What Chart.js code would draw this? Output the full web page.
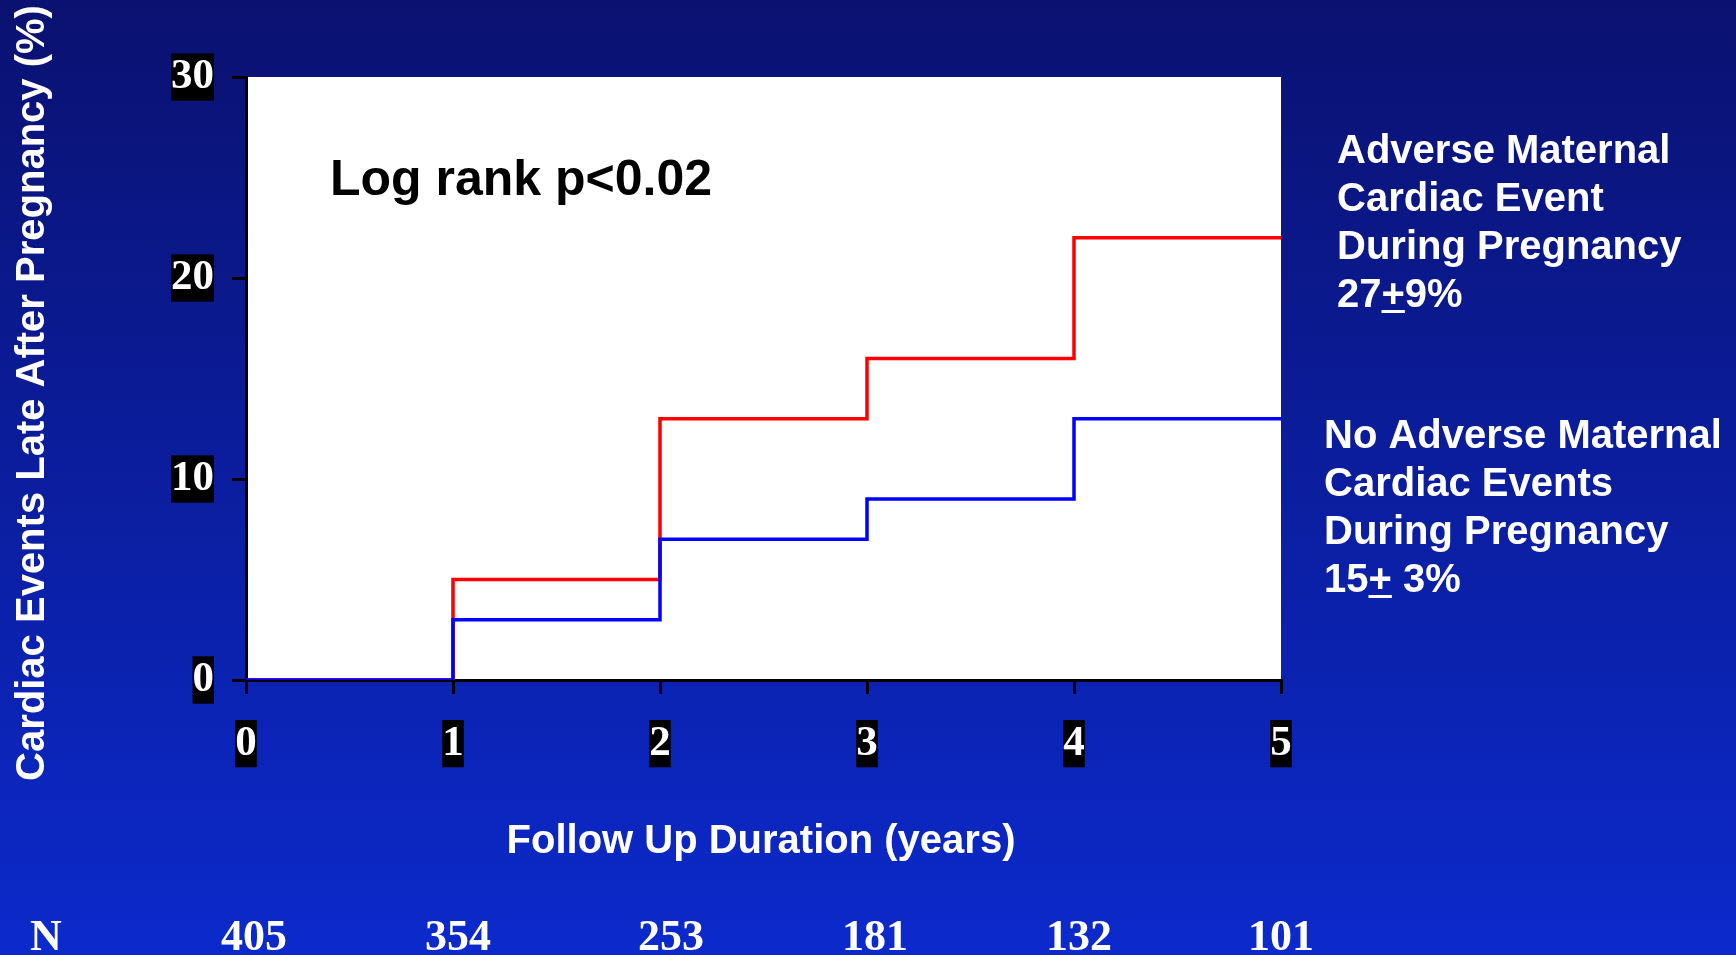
<!DOCTYPE html>
<html>
<head>
<meta charset="utf-8">
<script src="https://cdn.jsdelivr.net/npm/chart.js@4/dist/chart.umd.min.js"></script>
<style>
html,body{margin:0;padding:0;background:#0b1a9a;}
#wrap{width:1736px;height:955px;}
</style>
</head>
<body>
<div id="wrap"><canvas id="c" width="1736" height="955"></canvas></div>
<script>
// ---- data ----
const yearsX = [0, 1, 2, 3, 4, 5];
const adverseEvents = [0, 5, 13, 16, 22, 22];      // % with adverse maternal cardiac event during pregnancy
const noAdverseEvents = [0, 3, 7, 9, 13, 13];      // % without
const yTicks = [0, 10, 20, 30];
const xTickLabels = ['0', '1', '2', '3', '4', '5'];
const atRiskN = ['405', '354', '253', '181', '132', '101'];
const nLabel = 'N';
const adverseLegend = ['Adverse Maternal', 'Cardiac Event', 'During Pregnancy'];
const adverseRate = ['27', '+', '9%'];
const noAdverseLegend = ['No Adverse Maternal', 'Cardiac Events', 'During Pregnancy'];
const noAdverseRate = ['15', '+', ' 3%'];
const logRankText = 'Log rank p<0.02';
const xTitle = 'Follow Up Duration (years)';
const yTitle = 'Cardiac Events Late After Pregnancy (%)';

const SANS = 'Arial, "Liberation Sans", Helvetica, sans-serif';
const SERIF = '"Liberation Serif", "Times New Roman", serif';
const nOffsets = [8, 5, 11, 8, 5, 0];

function drawRate(ctx, parts, x, y) {
  ctx.fillText(parts[0], x, y);
  let w0 = ctx.measureText(parts[0]).width;
  ctx.fillText(parts[1], x + w0, y);
  let w1 = ctx.measureText(parts[1]).width;
  ctx.fillRect(x + w0, y + 14, w1, 3);
  ctx.fillText(parts[2], x + w0 + w1, y);
}

const decor = {
  id: 'decor',
  beforeDraw(chart) {
    const ctx = chart.ctx;
    const g = ctx.createLinearGradient(0, 0, 0, chart.height);
    g.addColorStop(0, '#0a1170');
    g.addColorStop(1, '#0c2acc');
    ctx.save();
    ctx.fillStyle = g;
    ctx.fillRect(0, 0, chart.width, chart.height);
    const a = chart.chartArea;
    ctx.fillStyle = '#ffffff';
    ctx.fillRect(a.left, a.top, a.right - a.left, a.bottom - a.top);
    ctx.restore();
  },
  afterDraw(chart) {
    const ctx = chart.ctx;
    const xs = chart.scales.x;
    ctx.save();
    // log rank
    ctx.fillStyle = '#000000';
    ctx.font = 'bold 50px ' + SANS;
    ctx.textBaseline = 'middle';
    ctx.textAlign = 'left';
    ctx.fillText(logRankText, 330, 181);
    // legends
    ctx.fillStyle = '#ffffff';
    ctx.font = 'bold 40px ' + SANS;
    adverseLegend.forEach((t, i) => ctx.fillText(t, 1337, 152 + i * 48));
    drawRate(ctx, adverseRate, 1337, 152 + 3 * 48);
    noAdverseLegend.forEach((t, i) => ctx.fillText(t, 1324, 437 + i * 48));
    drawRate(ctx, noAdverseRate, 1324, 437 + 3 * 48);
    // x title
    ctx.textAlign = 'center';
    ctx.fillText(xTitle, 761, 842);
    // y title
    ctx.save();
    ctx.translate(33, 393);
    ctx.rotate(-Math.PI / 2);
    ctx.fillText(yTitle, 0, 0);
    ctx.restore();
    // N row
    ctx.font = 'bold 44px ' + SERIF;
    ctx.textBaseline = 'alphabetic';
    ctx.fillText(nLabel, 46, 950);
    atRiskN.forEach((t, i) => {
      ctx.fillText(t, xs.getPixelForValue(yearsX[i]) + nOffsets[i], 950);
    });
    ctx.restore();
  }
};

new Chart(document.getElementById('c'), {
  type: 'line',
  data: {
    datasets: [
      {
        label: 'No adverse',
        data: yearsX.map((x, i) => ({x: x, y: noAdverseEvents[i]})),
        borderColor: '#0000ff',
        borderWidth: 3.5,
        stepped: 'before',
        pointRadius: 0,
        fill: false
      },
      {
        label: 'Adverse',
        data: yearsX.map((x, i) => ({x: x, y: adverseEvents[i]})),
        borderColor: '#ff0000',
        borderWidth: 3.5,
        stepped: 'before',
        pointRadius: 0,
        fill: false
      }
    ]
  },
  options: {
    responsive: false,
    animation: false,
    devicePixelRatio: 1,
    layout: {padding: {left: 0, right: 455, top: 77, bottom: 0}},
    plugins: {legend: {display: false}, tooltip: {enabled: false}},
    scales: {
      x: {
        type: 'linear',
        min: 0, max: 5,
        afterFit: s => { s.height = 275; },
        afterBuildTicks: s => { s.ticks = yearsX.map(v => ({value: v})); },
        ticks: {
          callback: (v, i) => xTickLabels[i],
          color: '#ffffff',
          font: {family: SERIF, weight: 'bold', size: 43, lineHeight: 1.1},
          padding: 26,
          showLabelBackdrop: true,
          backdropColor: '#000000',
          backdropPadding: 0,
          maxRotation: 0,
          autoSkip: false
        },
        grid: {display: true, drawOnChartArea: false, drawTicks: true, tickLength: 14, color: '#000000', lineWidth: 3},
        border: {display: true, color: '#000000', width: 3}
      },
      y: {
        min: 0, max: 30,
        afterFit: s => { s.width = 246; },
        afterBuildTicks: s => { s.ticks = yTicks.map(v => ({value: v})); },
        ticks: {
          color: '#ffffff',
          font: {family: SERIF, weight: 'bold', size: 43, lineHeight: 1.1},
          padding: 18,
          showLabelBackdrop: true,
          backdropColor: '#000000',
          backdropPadding: 0
        },
        grid: {display: true, drawOnChartArea: false, drawTicks: true, tickLength: 14, color: '#000000', lineWidth: 3},
        border: {display: true, color: '#000000', width: 3}
      }
    }
  },
  plugins: [decor]
});
</script>
</body>
</html>
